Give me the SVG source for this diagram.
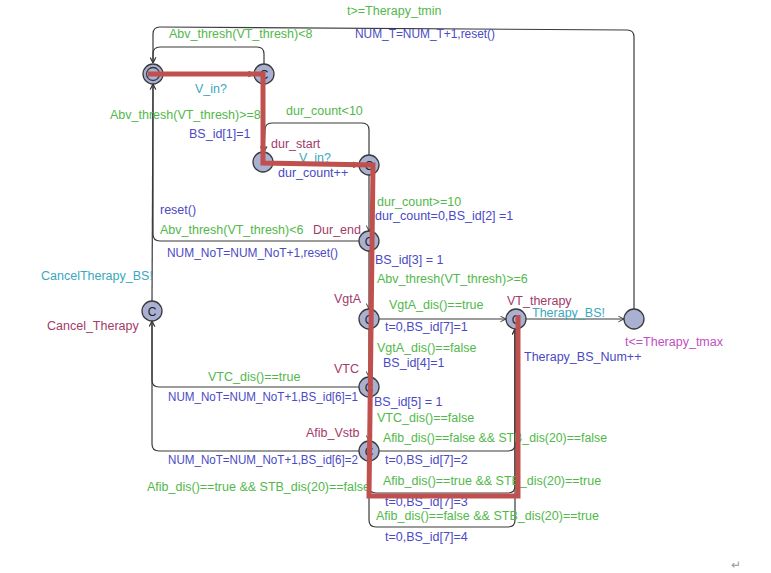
<svg xmlns="http://www.w3.org/2000/svg" width="771" height="573" viewBox="0 0 771 573">
<style>
text{font-family:"Liberation Sans",Arial,sans-serif;font-size:12.5px}
.g{fill:#52b84a}.u{fill:#4a4ac4}.s{fill:#3aa8bc}.n{fill:#a33a6a}.i{fill:#c050c0}
.e{fill:none;stroke:#3a3a3a;stroke-width:1.2}
.st{fill:#a9b0d1;stroke:#3a3a3a;stroke-width:1.3}
.c{font-size:12px;fill:#222;text-anchor:middle}
.hl{fill:none;stroke:#c0504d;stroke-width:5;stroke-linejoin:miter}
</style>
<defs>
<marker id="arr" viewBox="0 0 10 10" refX="9" refY="5" markerWidth="7" markerHeight="7" markerUnits="userSpaceOnUse" orient="auto">
<path d="M1,1 L9,5 L1,9" fill="none" stroke="#3a3a3a" stroke-width="1.4"/>
</marker>
</defs>
<rect width="771" height="573" fill="#fff"/>
<g id="connectors">
<path class="e" marker-end="url(#arr)" d="M634,309 L634,37 Q634,30 627,30 L160,27 Q153,27 153,34 L153,63"/>
<path class="e" marker-end="url(#arr)" d="M264,64 L264,54 Q264,47 257,47 L160,47 Q153,47 153,54 L153,63"/>
<path class="e" marker-end="url(#arr)" d="M163,74 L254,74"/>
<path class="e" marker-end="url(#arr)" d="M264,84 L263,152"/>
<path class="e" marker-end="url(#arr)" d="M273,162 L359,165"/>
<path class="e" marker-end="url(#arr)" d="M369,155 L369,130 Q369,123 362,123 L272,123 Q265,123 265,130 L264,152"/>
<path class="e" marker-end="url(#arr)" d="M369,175 L369,231"/>
<path class="e" marker-end="url(#arr)" d="M359,241 L160,241 Q153,241 153,234 L153,84"/>
<path class="e" marker-end="url(#arr)" d="M152,301 L153,84"/>
<path class="e" marker-end="url(#arr)" d="M369,251 L369,309"/>
<path class="e" marker-end="url(#arr)" d="M379,319 L506,319"/>
<path class="e" marker-end="url(#arr)" d="M369,329 L369,377"/>
<path class="e" marker-end="url(#arr)" d="M359,387 L159,387 Q152,387 152,380 L152,321"/>
<path class="e" marker-end="url(#arr)" d="M369,397 L369,441"/>
<path class="e" marker-end="url(#arr)" d="M359,451 L159,451 Q152,451 152,444 L152,321"/>
<path class="e" marker-end="url(#arr)" d="M379,451 L508,451 Q515,451 515,444 L515,329"/>
<path class="e" marker-end="url(#arr)" d="M369,461 L369,486 Q369,493 376,493 L508,493 Q515,493 515,486 L515,329"/>
<path class="e" marker-end="url(#arr)" d="M369,461 L369,520 Q369,527 376,527 L508,527 Q515,527 515,520 L515,329"/>
<path class="e" marker-end="url(#arr)" d="M526,319 L624,319"/>
</g>
<g id="init"><circle class="st" cx="153" cy="74" r="10"/><circle class="st" cx="153" cy="74" r="6.5"/></g>
<g id="n_vin"><circle class="st" cx="264" cy="74" r="10"/><text class="c" x="264" y="78.5">C</text></g>
<g id="dur_start"><circle class="st" cx="263" cy="162" r="10"/><text class="n" x="271" y="148">dur_start</text></g>
<g id="n_count"><circle class="st" cx="369" cy="165" r="10"/><text class="c" x="369" y="169.5">C</text></g>
<g id="Dur_end"><circle class="st" cx="369" cy="241" r="10"/><text class="c" x="369" y="245.5">C</text><text class="n" x="313" y="234">Dur_end</text></g>
<g id="VgtA"><circle class="st" cx="369" cy="319" r="10"/><text class="c" x="369" y="323.5">C</text><text class="n" x="334" y="303">VgtA</text></g>
<g id="VTC"><circle class="st" cx="369" cy="387" r="10"/><text class="c" x="369" y="391.5">C</text><text class="n" x="334" y="373">VTC</text></g>
<g id="Afib_Vstb"><circle class="st" cx="369" cy="451" r="10"/><text class="c" x="369" y="455.5">C</text><text class="n" x="306" y="437">Afib_Vstb</text></g>
<g id="VT_therapy"><circle class="st" cx="516" cy="319" r="10"/><text class="c" x="516" y="323.5">C</text><text class="n" x="507" y="305">VT_therapy</text></g>
<g id="Therapy_wait"><circle class="st" cx="634" cy="319" r="10"/><text class="i" x="625" y="346">t&lt;=Therapy_tmax</text></g>
<g id="Cancel_Therapy"><circle class="st" cx="152" cy="311" r="10"/><text class="c" x="152" y="315.5">C</text><text class="n" x="47" y="330">Cancel_Therapy</text></g>
<g id="labels">
<text class="g" x="347" y="15">t&gt;=Therapy_tmin</text>
<text class="u" x="355" y="38" textLength="140" lengthAdjust="spacingAndGlyphs">NUM_T=NUM_T+1,reset()</text>
<text class="g" x="169" y="38">Abv_thresh(VT_thresh)&lt;8</text>
<text class="s" x="195" y="93">V_in?</text>
<text class="g" x="110" y="119">Abv_thresh(VT_thresh)&gt;=8</text>
<text class="g" x="286" y="115">dur_count&lt;10</text>
<text class="u" x="189" y="138">BS_id[1]=1</text>
<text class="s" x="299" y="162">V_in?</text>
<text class="u" x="278" y="177">dur_count++</text>
<text class="u" x="160" y="214">reset()</text>
<text class="g" x="160" y="234">Abv_thresh(VT_thresh)&lt;6</text>
<text class="u" x="167" y="257" textLength="171" lengthAdjust="spacingAndGlyphs">NUM_NoT=NUM_NoT+1,reset()</text>
<text class="g" x="377" y="206">dur_count&gt;=10</text>
<text class="u" x="375" y="220">dur_count=0,BS_id[2] =1</text>
<text class="u" x="375" y="264">BS_id[3] = 1</text>
<text class="g" x="377" y="283">Abv_thresh(VT_thresh)&gt;=6</text>
<text class="s" x="41" y="280">CancelTherapy_BS!</text>
<text class="g" x="389" y="309">VgtA_dis()==true</text>
<text class="u" x="385" y="331">t=0,BS_id[7]=1</text>
<text class="s" x="532" y="317">Therapy_BS!</text>
<text class="g" x="377" y="352">VgtA_dis()==false</text>
<text class="u" x="524" y="361">Therapy_BS_Num++</text>
<text class="u" x="383" y="367">BS_id[4]=1</text>
<text class="g" x="208" y="381">VTC_dis()==true</text>
<text class="u" x="168" y="401" textLength="190" lengthAdjust="spacingAndGlyphs">NUM_NoT=NUM_NoT+1,BS_id[6]=1</text>
<text class="u" x="374" y="406">BS_id[5] = 1</text>
<text class="g" x="377" y="422">VTC_dis()==false</text>
<text class="g" x="383" y="442" textLength="224" lengthAdjust="spacingAndGlyphs">Afib_dis()==false &amp;&amp; STB_dis(20)==false</text>
<text class="u" x="168" y="464" textLength="190" lengthAdjust="spacingAndGlyphs">NUM_NoT=NUM_NoT+1,BS_id[6]=2</text>
<text class="u" x="385" y="464">t=0,BS_id[7]=2</text>
<text class="g" x="383" y="485">Afib_dis()==true &amp;&amp; STB_dis(20)==true</text>
<text class="g" x="147" y="491">Afib_dis()==true &amp;&amp; STB_dis(20)==false</text>
<text class="u" x="385" y="506">t=0,BS_id[7]=3</text>
<text class="g" x="376" y="520">Afib_dis()==false &amp;&amp; STB_dis(20)==true</text>
<text class="u" x="385" y="541">t=0,BS_id[7]=4</text>
</g>
<g id="highlight">
<path class="hl" d="M148,74 L263,74 L263,163 L373,165 L369,496 L518,496 L518,315"/>
</g>
<text x="731" y="569" style="font-size:12px;fill:#999">↵</text>
</svg>
